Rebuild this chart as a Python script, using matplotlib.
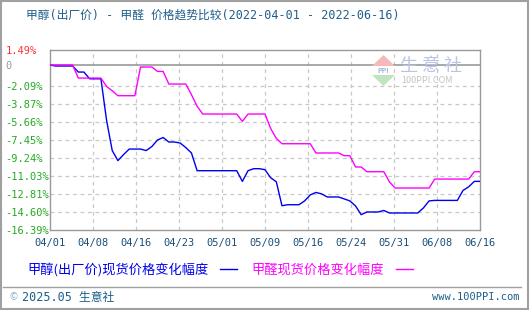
import matplotlib
matplotlib.use("Agg")
import matplotlib.pyplot as plt
from matplotlib.lines import Line2D
from matplotlib.patches import Polygon, Rectangle
import numpy as np

plt.rcParams['font.family'] = ['Noto Sans CJK SC', 'DejaVu Sans']

title = '甲醇(出厂价) - 甲醛 价格趋势比较(2022-04-01 - 2022-06-16)'
tick_labels = ['04/01', '04/08', '04/16', '04/23', '05/01', '05/09',
               '05/16', '05/24', '05/31', '06/08', '06/16']
y_ticks = [1.49, 0, -2.09, -3.87, -5.66, -7.45, -9.24, -11.03, -12.81, -14.60, -16.39]
y_labels = ['1.49%', '0', '-2.09%', '-3.87%', '-5.66%', '-7.45%', '-9.24%',
            '-11.03%', '-12.81%', '-14.60%', '-16.39%']

# daily change (%) from 2022-04-01, one value per day up to 2022-06-16
methanol = [0, -0.1, -0.1, -0.1, -0.1, -0.70, -0.70, -1.37, -1.37, -1.37,
            -5.5, -8.5, -9.5, -8.9, -8.35, -8.35, -8.35, -8.5, -8.1, -7.45,
            -7.2, -7.65, -7.65, -7.75, -8.2, -8.74, -10.5, -10.5, -10.5, -10.5,
            -10.5, -10.5, -10.5, -10.5, -11.56, -10.5, -10.3, -10.3, -10.4, -11.2,
            -11.6, -13.98, -13.88, -13.88, -13.88, -13.5, -12.9, -12.66, -12.8, -13.11,
            -13.11, -13.11, -13.3, -13.5, -14.0, -14.87, -14.6, -14.6, -14.6, -14.45,
            -14.7, -14.7, -14.7, -14.7, -14.7, -14.7, -14.2, -13.5, -13.45, -13.45,
            -13.45, -13.45, -13.45, -12.46, -12.1, -11.56, -11.56]
formaldehyde = [0, 0, 0, 0, 0, -1.30, -1.30, -1.30, -1.30, -1.30,
                -2.13, -2.56, -3.05, -3.05, -3.05, -3.05, -0.20, -0.20, -0.20, -0.64,
                -0.64, -1.89, -1.89, -1.89, -1.89, -2.95, -4.1, -4.87, -4.87, -4.87,
                -4.87, -4.87, -4.87, -4.87, -5.6, -4.87, -4.87, -4.87, -4.87, -6.3,
                -7.3, -7.82, -7.82, -7.82, -7.82, -7.82, -7.82, -8.74, -8.74, -8.74,
                -8.74, -8.74, -9.01, -9.01, -10.13, -10.13, -10.60, -10.60, -10.60, -10.60,
                -11.62, -12.22, -12.22, -12.22, -12.22, -12.22, -12.22, -12.22, -11.33, -11.33,
                -11.33, -11.33, -11.33, -11.33, -11.33, -10.60, -10.60]

W, H = 530, 310
def fx(x): return x / W
def fy(y): return 1 - y / H

mono_cjk = ['DejaVu Sans Mono', 'Noto Sans CJK SC']

fig = plt.figure(figsize=(5.3, 3.1), dpi=100)
ax = fig.add_axes([fx(50), fy(230), 430 / W, 180 / H])

days = np.arange(len(methanol))
ax.plot(days, methanol, color='#0000ee', lw=1.0, zorder=3)
ax.plot(days, formaldehyde, color='#ff00ff', lw=1.0, zorder=3)

ax.set_xlim(0, 76)
ax.set_ylim(-16.39, 1.49)
xt = np.linspace(0, 76, len(tick_labels))
ax.set_xticks(xt)
ax.set_xticklabels(tick_labels, family='DejaVu Sans Mono', fontsize=7.5, color='#1a4f78')
ax.set_yticks(y_ticks)
ax.set_yticklabels(y_labels, family='DejaVu Sans Mono', fontsize=7.5)
for lab, v in zip(ax.get_yticklabels(), y_ticks):
    lab.set_ha('left')
    lab.set_color('#ff3333' if v > 0 else ('#999999' if v == 0 else '#22aa22'))
ax.tick_params(axis='y', length=0, pad=32)
ax.tick_params(axis='x', length=0, pad=6)

for v in y_ticks[2:-1]:
    ax.axhline(v, color='#c8c8c8', lw=0.9, ls=(0, (3, 3)), zorder=1)
for v in xt[1:-1]:
    ax.axvline(v, color='#c8c8c8', lw=0.9, ls=(0, (3, 3)), zorder=1)
ax.axhline(0, color='#999999', lw=1.2, zorder=2)
for s in ax.spines.values():
    s.set_color('#999999')
    s.set_linewidth(1.0)

# watermark
fig.patches.append(Polygon([[fx(372), fy(66)], [fx(395), fy(66)], [fx(383.5), fy(55)]],
                           closed=True, transform=fig.transFigure, fc='#f6b9b9', ec='none'))
fig.patches.append(Polygon([[fx(372), fy(75)], [fx(395), fy(75)], [fx(383.5), fy(86)]],
                           closed=True, transform=fig.transFigure, fc='#bfe4bf', ec='none'))
fig.text(fx(383.5), fy(70.5), 'PPI', fontsize=5, color='#aab2d8', ha='center', va='center',
         weight='bold')
fig.text(fx(400), fy(66), '生 意 社', fontsize=13, color='#bcc2e2', ha='left', va='center')
fig.text(fx(401), fy(81), '100PPI.COM', fontsize=6.5, color='#c4c4c4', ha='left', va='center')

fig.text(fx(26), fy(15), title, family=mono_cjk, fontsize=8.5, color='#1f5f8b',
         ha='left', va='center')

handles = [Line2D([], [], color='#0000ee', lw=1.0), Line2D([], [], color='#ff00ff', lw=1.0)]
fig.legend(handles, ['甲醇(出厂价)现货价格变化幅度', '甲醛现货价格变化幅度'],
           loc='center left', bbox_to_anchor=(fx(27), fy(270)), bbox_transform=fig.transFigure,
           ncol=2, frameon=False, markerfirst=False, fontsize=9.5, labelcolor='linecolor',
           handlelength=1.3, handletextpad=0.9, columnspacing=1.1, borderpad=0, borderaxespad=0)

fig.lines.append(Line2D([fx(3), fx(521)], [fy(287), fy(287)], transform=fig.transFigure,
                        color='#a0a0a0', lw=1.0))
fig.text(fx(9), fy(297), '©', fontsize=7, color='#8ab0cc', ha='left', va='center')
fig.text(fx(22), fy(297), '2025.05 生意社', family=mono_cjk, fontsize=8.5, color='#1a5f8a',
         ha='left', va='center')
fig.text(fx(520), fy(297), 'www.100PPI.com', family='DejaVu Sans Mono', fontsize=7.5,
         color='#1a5f8a', ha='right', va='center')
fig.patches.append(Rectangle((0.001, 0.003), 0.996, 0.994, transform=fig.transFigure,
                             fill=False, ec='#a0a0a0', lw=1.5))

fig.savefig('out.png', dpi=100)
